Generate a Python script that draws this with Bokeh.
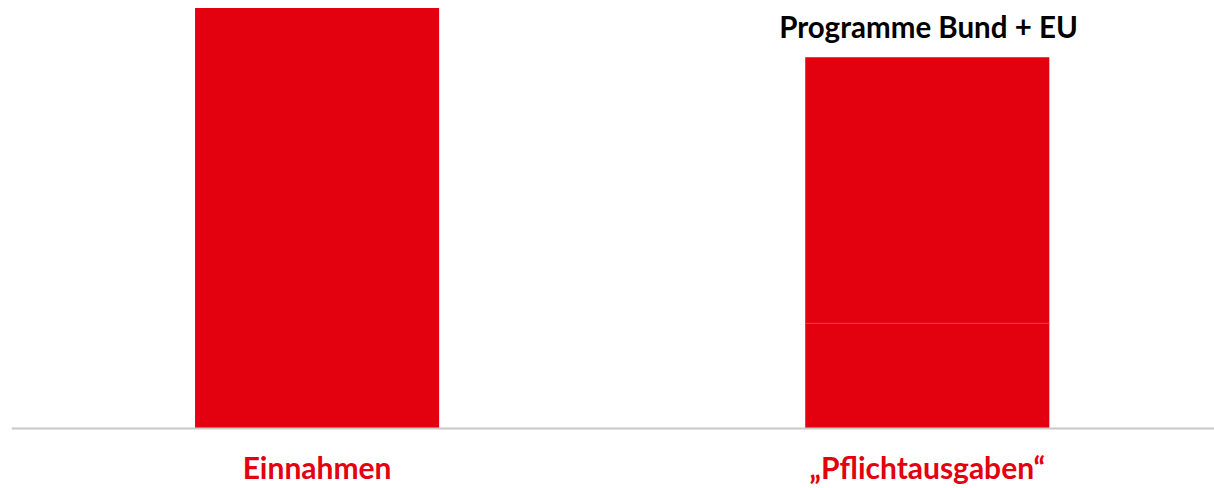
from bokeh.plotting import figure
from bokeh.models import Range1d, Span
from bokeh.core.properties import value
from bokeh.embed import file_html
from bokeh.resources import INLINE

categories = ["Einnahmen", "\u201ePflichtausgaben\u201c"]
base_values = [100, 25]
programme_values = [0, 63.3]
programme_label = "Programme Bund + EU"

RED = "#E3000F"
xs = [1, 2]

p = figure(width=1214, height=488, output_backend="svg", toolbar_location=None,
           x_range=Range1d(0.4992, 2.4707), y_range=Range1d(-14.29, 101.79),
           min_border_left=11, min_border_right=0, min_border_top=0, min_border_bottom=0)
p.xaxis.visible = False
p.yaxis.visible = False
p.xgrid.visible = False
p.ygrid.visible = False
p.outline_line_color = None
p.background_fill_color = "white"

p.vbar(x=xs, bottom=0, top=base_values, width=0.40, fill_color=RED, line_color=None)
tops = [b + t for b, t in zip(base_values, programme_values)]
p.vbar(x=[xs[1]], bottom=[base_values[1]], top=[tops[1]], width=0.40,
       fill_color=RED, line_color=None)
p.segment(x0=[xs[1] - 0.2], x1=[xs[1] + 0.2], y0=[base_values[1]], y1=[base_values[1]],
          line_color="#EC3540", line_width=1)

p.add_layout(Span(location=0, dimension="width", line_color="#C8C8C8", line_width=2))

p.text(x=xs, y=[-9.1, -9.1], text=categories, text_color=RED,
       text_font=value("Lato"), text_font_style="bold", text_font_size="30px",
       text_align="center", text_baseline="middle")
p.text(x=[xs[1] + 0.002], y=[95.5], text=[programme_label], text_color="black",
       text_font=value("Lato"), text_font_style="bold", text_font_size="29.5px",
       text_align="center", text_baseline="middle")

open("out.html", "w").write(file_html(p, INLINE))
